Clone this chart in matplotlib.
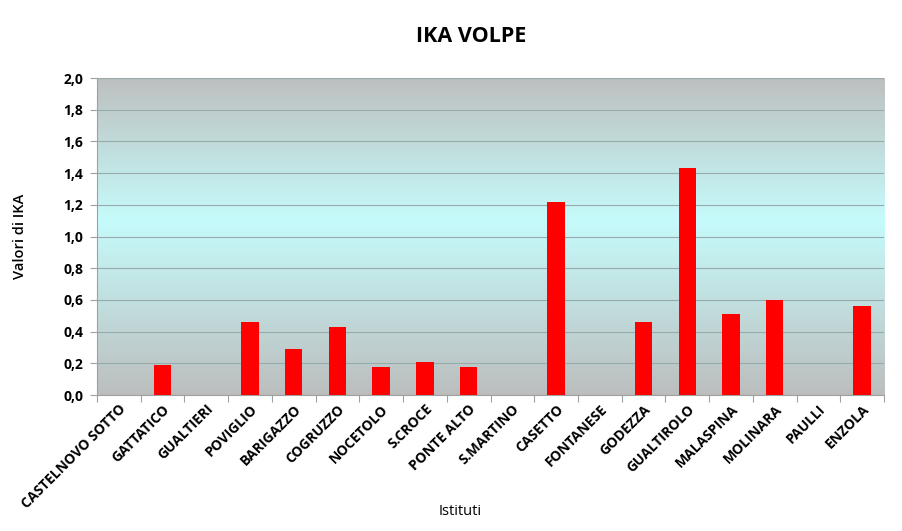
import numpy as np
import matplotlib.pyplot as plt
from matplotlib.colors import LinearSegmentedColormap
from matplotlib.ticker import FuncFormatter

plt.rcParams['font.family'] = ['Open Sans', 'DejaVu Sans']

#data
istituti = ['CASTELNOVO SOTTO', 'GATTATICO', 'GUALTIERI', 'POVIGLIO', 'BARIGAZZO',
            'COGRUZZO', 'NOCETOLO', 'S.CROCE', 'PONTE ALTO', 'S.MARTINO', 'CASETTO',
            'FONTANESE', 'GODEZZA', 'GUALTIROLO', 'MALASPINA', 'MOLINARA', 'PAULLI', 'ENZOLA']
ika = [0.0, 0.19, 0.0, 0.46, 0.29, 0.43, 0.18, 0.21, 0.18, 0.0, 1.22,
       0.0, 0.46, 1.43, 0.51, 0.60, 0.0, 0.56]
yticks = np.arange(0, 2.01, 0.2)

fig = plt.figure(figsize=(9.03, 5.31), dpi=100)
ax = fig.add_axes([0.1074, 0.256, 0.8716, 0.597])

n = len(istituti)
x = np.arange(n)

#background gradient gray -> light cyan -> gray
cmap = LinearSegmentedColormap.from_list('bg', [(0, '#bcbebe'), (0.55, '#c6fbfb'), (1, '#bdbfbf')])
grad = np.linspace(0, 1, 256).reshape(-1, 1)
ax.imshow(grad, extent=[-0.5, n - 0.5, 0, 2.0], aspect='auto', cmap=cmap,
          origin='lower', zorder=0)

ax.bar(x, ika, width=0.4, color='#ff0000', zorder=3)

ax.set_xlim(-0.5, n - 0.5)
ax.set_ylim(0, 2.0)
ax.set_yticks(yticks)
ax.yaxis.set_major_formatter(FuncFormatter(lambda v, p: f'{v:.1f}'.replace('.', ',')))
ax.grid(axis='y', color='#98abab', linewidth=0.8, zorder=1)

#category separators as ticks
ax.set_xticks(np.arange(-0.5, n, 1.0))
ax.set_xticklabels([])
ax.set_xticks(x, minor=True)
ax.set_xticklabels(istituti, minor=True, rotation=45, ha='right', rotation_mode='anchor',
                   fontsize=10, fontweight='bold')
ax.tick_params(axis='x', which='minor', length=0, pad=5)
ax.tick_params(axis='x', which='major', length=5, color='#a0a0a0', direction='out')
ax.tick_params(axis='y', length=5, color='#a0a0a0', labelsize=10, pad=5)
for lab in ax.get_yticklabels():
    lab.set_fontweight('bold')

for s in ['top', 'right']:
    ax.spines[s].set_visible(False)
ax.spines['left'].set_color('#a0a0a0')
ax.spines['bottom'].set_color('#a0a0a0')

ax.set_ylabel('Valori di IKA', fontsize=10.5, fontweight='semibold', labelpad=26)
fig.text(0.51, 0.03, 'Istituti', ha='center', fontsize=10.5)
fig.text(0.522, 0.92, 'IKA VOLPE', ha='center', fontsize=15.5, fontweight='bold')

fig.savefig('out.png', dpi=100)
